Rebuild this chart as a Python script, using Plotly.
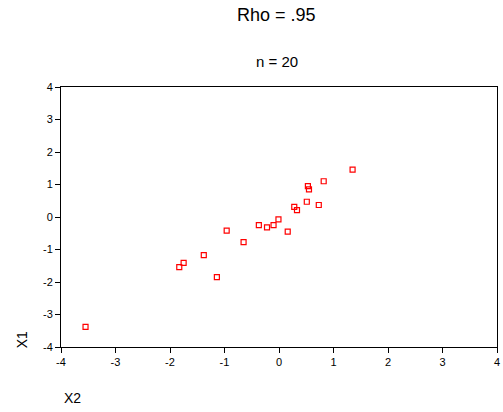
import plotly.graph_objects as go

x2 = [-3.55, -1.83, -1.75, -1.38, -1.14, -0.96, -0.65, -0.37, -0.22, -0.10,
      -0.01, 0.16, 0.28, 0.33, 0.51, 0.73, 0.53, 0.55, 0.82, 1.35]
x1 = [-3.38, -1.54, -1.41, -1.17, -1.85, -0.42, -0.77, -0.25, -0.32, -0.25,
      -0.07, -0.45, 0.31, 0.21, 0.47, 0.37, 0.95, 0.85, 1.10, 1.46]
tick_vals = [-4, -3, -2, -1, 0, 1, 2, 3, 4]
tick_text = ["-4", "-3", "-2", "-1", "0", "1", "2", "3", "4"]

fig = go.Figure(go.Scatter(
    x=x2, y=x1, mode="markers",
    marker=dict(symbol="square-open", size=5, color="#ff0000", line=dict(width=1.2)),
))

font = "Liberation Sans, Arial, sans-serif"
axis = dict(range=[-4, 4], tickvals=tick_vals, ticktext=tick_text, ticks="outside", ticklen=5,
            tickwidth=1, tickcolor="black", showline=True, linecolor="black",
            linewidth=1, mirror=True, showgrid=False, zeroline=False,
            ticklabeloverflow="allow",
            tickfont=dict(family=font, size=11, color="black"))
fig.update_layout(
    width=503, height=412, plot_bgcolor="white", paper_bgcolor="white",
    margin=dict(l=61, r=3, t=87, b=65), showlegend=False,
    xaxis=axis, yaxis=axis,
)
fig.add_annotation(text="Rho = .95", xref="paper", yref="paper", x=(278 - 61) / 439, y=1 + (87 - 15) / 260,
                   xanchor="center", yanchor="middle",
                   showarrow=False, font=dict(family=font, size=18, color="black"))
fig.add_annotation(text="n = 20", xref="paper", yref="paper", x=(278 - 61) / 439, y=1 + (87 - 62) / 260,
                   xanchor="center", yanchor="middle",
                   showarrow=False, font=dict(family=font, size=15, color="black"))
fig.add_annotation(text="X2", xref="paper", yref="paper", x=(62 - 61) / 439, y=-(398 - 347) / 260,
                   xanchor="left", yanchor="middle", showarrow=False, font=dict(family=font, size=14, color="black"))
fig.add_annotation(text="X1", xref="paper", yref="paper", x=-(61 - 22) / 439, y=-(340 - 347) / 260,
                   xanchor="center", yanchor="middle",
                   textangle=-90, showarrow=False, font=dict(family=font, size=14, color="black"))
fig.write_html("out.html")
